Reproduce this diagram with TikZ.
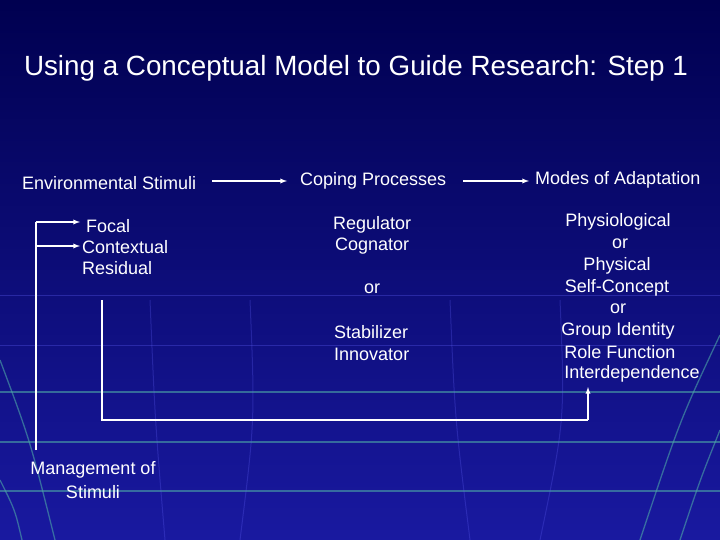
\documentclass[tikz,border=0pt]{standalone}
\usepackage{fontspec}
\setmainfont{Liberation Sans}
\begin{document}
\begin{tikzpicture}[x=1pt,y=-1pt,
  txt/.style={text=white,font=\fontsize{18}{21}\selectfont,inner sep=0pt},
  conn/.style={white,line width=1.3pt},
  arr/.style={conn,-latex},
  grid/.style={draw=teal!70!white,opacity=0.6,line width=1.3pt}]
\useasboundingbox (0,0) rectangle (720,540);
\shade[top color={rgb,255:red,0;green,0;blue,80}, bottom color={rgb,255:red,25;green,25;blue,160}] (0,0) rectangle (720,540);
% grid
\foreach \y in {392,442,491} \draw[grid] (0,\y) -- (720,\y);
\foreach \y in {295,345} \draw[blue!60!white,opacity=0.3,line width=1pt] (0,\y) -- (720,\y);
\draw[grid] (0,360) .. controls (30,440) .. (55,540);
\draw[grid] (0,480) .. controls (15,510) .. (22,540);
\draw[grid] (720,335) .. controls (680,420) .. (640,540);
\draw[grid] (720,430) .. controls (700,480) .. (680,540);
\foreach \x/\b in {150/165,250/240,450/470,560/540} \draw[blue!60!white,opacity=0.25,line width=1pt] (\x,300) .. controls (\x+5,420) .. (\b,540);
% title
\node[txt,font=\fontsize{27.8}{32}\selectfont] (title) at (356,68) {Using a Conceptual Model to Guide Research: Step 1};
% headers
\node[txt,anchor=west] (env) at (22,183) {Environmental Stimuli};
\node[txt,anchor=west] (cop) at (300,181) {Coping Processes};
\node[txt,anchor=west] (mod) at (535,180) {Modes of Adaptation};
\draw[arr] (212,181) coordinate (a1) -- (287,181) coordinate (a2);
\draw[arr] (463,181) coordinate (b1) -- (529,181) coordinate (b2);
% left
\node[txt,anchor=west] (foc) at (86,226) {Focal};
\node[txt,anchor=west] (con) at (82,247) {Contextual};
\node[txt,anchor=west] (res) at (82,268) {Residual};
\node[txt,align=center] (man) at (93,480) {Management of\\[3pt]Stimuli};
\coordinate (m1) at (36,450);
\coordinate (m2) at (36,222);
\coordinate (m3) at (36,246);
\coordinate (e2) at (80,222);
\coordinate (e3) at (80,246);
\draw[conn] (m1) -- (m2);
\draw[arr] (m2) -- (e2);
\draw[arr] (m3) -- (e3);
% middle
\node[txt,anchor=west] (reg) at (333,225) {Regulator};
\node[txt,anchor=west] (cog) at (335,246) {Cognator};
\node[txt] (or1) at (372,289) {or};
\node[txt,anchor=west] (sta) at (334,332) {Stabilizer};
\node[txt,anchor=west] (inn) at (334,354) {Innovator};
% right
\node[txt] (phy) at (618,222) {Physiological};
\node[txt] (or2) at (620,244) {or};
\node[txt] (phs) at (617,266) {Physical};
\node[txt] (sel) at (617,288) {Self-Concept};
\node[txt] (or3) at (618,309) {or};
\node[txt] (grp) at (618,331) {Group Identity};
\node[txt] (rol) at (620,352) {Role Function};
\node[txt] (int) at (632,374) {Interdependence};
% feedback
\coordinate (f1) at (102,300);
\coordinate (f2) at (102,420);
\coordinate (f3) at (588,420);
\coordinate (f4) at (588,387);
\draw[conn] (f1) -- (f2) -- (f3);
\draw[arr] (f3) -- (f4);
\end{tikzpicture}
\end{document}
